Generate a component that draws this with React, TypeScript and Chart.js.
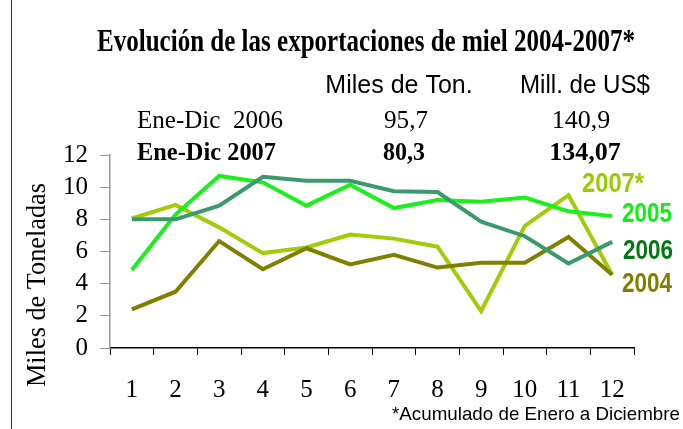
import React, { useEffect, useRef } from 'react';
import { Chart, registerables } from 'chart.js';

Chart.register(...registerables);

// ---- Data ----
const months = ['1', '2', '3', '4', '5', '6', '7', '8', '9', '10', '11', '12'];
const serie2004 = [2.4, 3.5, 6.65, 4.9, 6.2, 5.2, 5.8, 5.0, 5.3, 5.3, 6.9, 4.55];
const serie2005 = [4.85, 8.3, 10.7, 10.3, 8.85, 10.15, 8.7, 9.2, 9.1, 9.35, 8.5, 8.2];
const serie2006 = [8.0, 8.0, 8.85, 10.65, 10.4, 10.4, 9.75, 9.7, 7.85, 6.95, 5.25, 6.6];
const serie2007 = [8.05, 8.9, 7.5, 5.9, 6.25, 7.05, 6.8, 6.3, 2.3, 7.6, 9.5, 4.55];

const titleText = 'Evolución de las exportaciones de miel 2004-2007*';
const headerCols = ['Miles de Ton.', 'Mill. de US$'];
const row2006 = ['Ene-Dic  2006', '95,7', '140,9'];
const row2007 = ['Ene-Dic 2007', '80,3', '134,07'];
const yAxisTitle = 'Miles de Toneladas';
const footnote = '*Acumulado de Enero a Diciembre';
const seriesLabels = ['2007*', '2005', '2006', '2004'];

const SERIF = '"Liberation Serif", "Times New Roman", serif';
const SANS = '"Liberation Sans", Arial, sans-serif';

const decorPlugin = {
  id: 'decor',
  afterDraw(chart: any) {
    const ctx = chart.ctx as CanvasRenderingContext2D;
    ctx.save();
    // left border line
    ctx.strokeStyle = '#333';
    ctx.lineWidth = 1;
    ctx.beginPath();
    ctx.moveTo(11.5, 0);
    ctx.lineTo(11.5, 429);
    ctx.stroke();

    const txt = (s: string, x: number, y: number, font: string, color: string, maxW: number, align: CanvasTextAlign = 'center') => {
      ctx.font = font;
      ctx.fillStyle = color;
      ctx.textAlign = align;
      ctx.textBaseline = 'middle';
      const w = ctx.measureText(s).width;
      if (w > maxW) ctx.fillText(s, x, y, maxW);
      else ctx.fillText(s, x, y);
    };

    // title
    txt(titleText, 366, 43, `bold 31px ${SERIF}`, '#000', 538);
    // header table
    txt(headerCols[0], 399, 86, `25px ${SANS}`, '#000', 148);
    txt(headerCols[1], 585, 86, `25px ${SANS}`, '#000', 130);
    txt(row2006[0], 137, 121, `26px ${SERIF}`, '#000', 146, 'left');
    txt(row2006[1], 406, 121, `26px ${SERIF}`, '#000', 44);
    txt(row2006[2], 581, 121, `26px ${SERIF}`, '#000', 60);
    txt(row2007[0], 137, 153, `bold 26px ${SERIF}`, '#000', 139, 'left');
    txt(row2007[1], 404, 153, `bold 26px ${SERIF}`, '#000', 42);
    txt(row2007[2], 585, 153, `bold 26px ${SERIF}`, '#000', 72);

    // series labels
    txt(seriesLabels[0], 582, 184, `bold 28px ${SANS}`, '#99cc00', 62, 'left');
    txt(seriesLabels[1], 622, 214, `bold 28px ${SANS}`, '#11ee11', 50, 'left');
    txt(seriesLabels[2], 623, 251, `bold 28px ${SANS}`, '#007a10', 50, 'left');
    txt(seriesLabels[3], 622, 284, `bold 28px ${SANS}`, '#808000', 50, 'left');

    // footnote
    txt(footnote, 392, 415, `19px ${SANS}`, '#000', 288, 'left');

    // y axis title
    ctx.translate(38, 285);
    ctx.rotate(-Math.PI / 2);
    txt(yAxisTitle, 0, 0, `27px ${SERIF}`, '#000', 204);
    ctx.restore();
  },
};

export default function App() {
  const ref = useRef<HTMLCanvasElement>(null);

  useEffect(() => {
    if (!ref.current) return;
    const chart = new Chart(ref.current, {
      type: 'line',
      data: {
        labels: months,
        datasets: [
          { label: '2006', data: serie2006, borderColor: '#3a9a6c', borderWidth: 4, pointRadius: 0, tension: 0, fill: false },
          { label: '2005', data: serie2005, borderColor: '#1af01a', borderWidth: 4, pointRadius: 0, tension: 0, fill: false },
          { label: '2004', data: serie2004, borderColor: '#808000', borderWidth: 4, pointRadius: 0, tension: 0, fill: false },
          { label: '2007*', data: serie2007, borderColor: '#a2cc0a', borderWidth: 4, pointRadius: 0, tension: 0, fill: false },
        ],
      },
      options: {
        responsive: false,
        animation: false,
        layout: { padding: { top: 155, right: 49, left: 0, bottom: 0 } },
        plugins: {
          legend: { display: false },
          title: { display: false },
          tooltip: { enabled: false },
        },
        scales: {
          x: {
            type: 'category',
            offset: true,
            grid: { offset: true, drawOnChartArea: false, drawTicks: true, tickLength: 7, color: '#000', lineWidth: 1 },
            border: { color: '#000', width: 1.5 },
            ticks: { color: '#000', font: { family: SERIF, size: 25 }, padding: 20, maxRotation: 0, autoSkip: false },
            afterFit: (s: any) => { s.height = 81; },
          },
          y: {
            min: 0,
            max: 12,
            grid: { drawOnChartArea: false, drawTicks: true, tickLength: 10, color: '#999', lineWidth: 1 },
            border: { color: '#999', width: 1.5 },
            ticks: { stepSize: 2, color: '#000', font: { family: SERIF, size: 25 }, padding: 12, autoSkip: false },
            afterFit: (s: any) => { s.width = 110; },
          },
        },
      },
      plugins: [decorPlugin],
    });
    return () => chart.destroy();
  }, []);

  return (
    <div style={{ position: 'absolute', left: 0, top: 0, width: 683, height: 429, background: '#fff' }}>
      <canvas ref={ref} width={683} height={429} />
    </div>
  );
}
